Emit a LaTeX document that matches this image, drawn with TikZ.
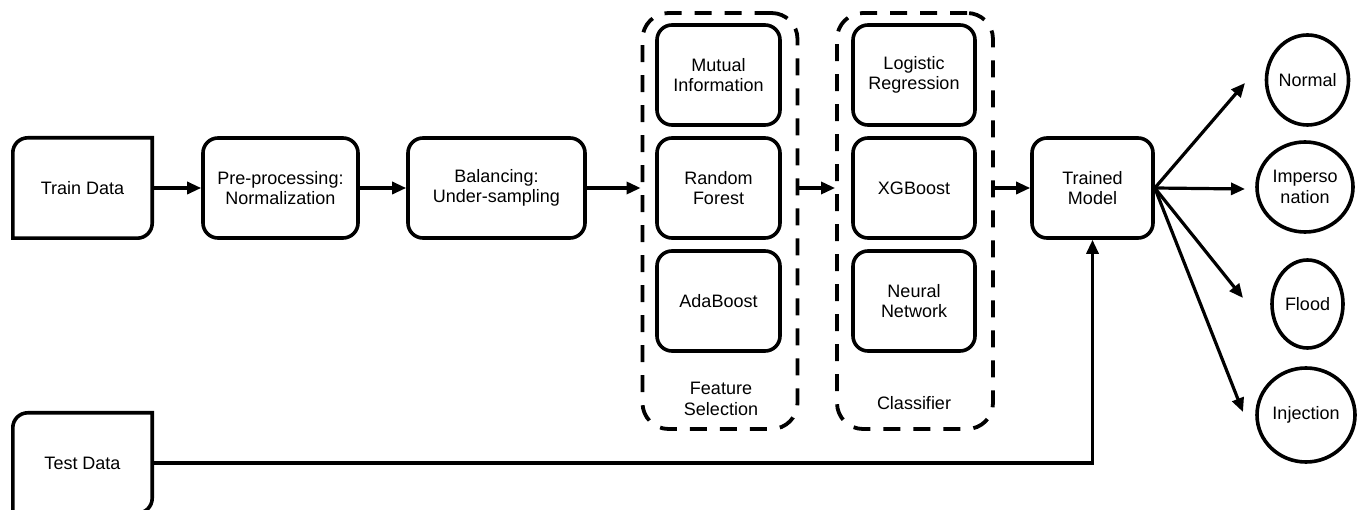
\documentclass[tikz,border=0pt]{standalone}
\usepackage{fontspec}
\setmainfont{Liberation Sans}
\usetikzlibrary{arrows.meta,shapes.geometric}
\begin{document}
\begin{tikzpicture}[x=1pt,y=-1pt,
  every node/.style={font=\fontsize{18}{20.5}\selectfont, align=center, inner sep=0pt},
  rbox/.style={draw, line width=3.6pt, rounded corners=15pt, minimum height=100pt},
  dbox/.style={draw, line width=3.8pt, dash pattern=on 17pt off 13pt, rounded corners=26pt, minimum width=155pt, minimum height=416pt},
  plain/.style={minimum width=139pt, minimum height=100pt},
  outc/.style={draw, ellipse, line width=3.6pt},
  conn/.style={line width=3.2pt, -{Triangle[length=14pt,width=12pt]}}
]
\useasboundingbox (0,0) rectangle (1363,510);

% data boxes
\node[plain] (train) at (82.5,188) {Train Data};
\draw[line width=3.6pt] (train.north east) -- ([yshift=15pt]train.south east)
  arc[start angle=0,end angle=-90,radius=15pt] -- (train.south west)
  -- ([yshift=-15pt]train.north west) arc[start angle=180,end angle=90,radius=15pt] -- cycle;
\node[plain] (test) at (82.5,463) {Test Data};
\draw[line width=3.6pt] (test.north east) -- ([yshift=15pt]test.south east)
  arc[start angle=0,end angle=-90,radius=15pt] -- (test.south west)
  -- ([yshift=-15pt]test.north west) arc[start angle=180,end angle=90,radius=15pt] -- cycle;

\node[rbox, minimum width=155pt] (pre) at (280.5,188) {Pre-processing:\\Normalization};
\node[rbox, minimum width=177pt] (bal) at (496.5,188) {Balancing:\\Under-sampling};

% feature selection
\node[dbox] (fs) at (720,221) {};
\node[rbox, minimum width=123pt] (mi) at (718.5,75) {Mutual\\Information};
\node[rbox, minimum width=123pt] (rf) at (718.5,188) {Random\\Forest};
\node[rbox, minimum width=123pt] (ada) at (718.5,301) {AdaBoost};
\node (fsl) at (721,399) {Feature\\Selection};

% classifier
\node[dbox, minimum width=156pt] (clf) at (915,221) {};
\node[rbox, minimum width=122pt] (lr) at (914,75) {Logistic\\Regression};
\node[rbox, minimum width=122pt] (xgb) at (914,188) {XGBoost};
\node[rbox, minimum width=122pt] (nn) at (914,301) {Neural\\Network};
\node (clfl) at (914,403) {Classifier};

\node[rbox, minimum width=121pt] (trained) at (1092.5,188) {Trained\\Model};

% outcomes
\node[outc, minimum width=71pt, minimum height=90pt] (normal) at (1307.5,80) {Normal};
\node[outc, minimum width=96pt, minimum height=90pt] (imp) at (1305,187) {Imperso\\nation};
\node[outc, minimum width=71pt, minimum height=88pt] (flood) at (1307.5,304) {Flood};
\node[outc, minimum width=98pt, minimum height=94pt] (inj) at (1306,415) {Injection};

\coordinate (tN) at (1245,83);
\coordinate (tI) at (1245,189);
\coordinate (tF) at (1243,298);
\coordinate (tJ) at (1243,412);

% connectors
\draw[conn] (train.east) -- (pre.west);
\draw[conn] (pre.east) -- (bal.west);
\draw[conn] (bal.east) -- (fs.west |- bal.east);
\draw[conn] (fs.east |- rf.east) -- (clf.west |- rf.east);
\draw[conn] (clf.east |- trained.west) -- (trained.west);
\draw[conn] (test.east) -| (trained.south);
\draw[conn] (trained.east) -- (tN);
\draw[conn] (trained.east) -- (tI);
\draw[conn] (trained.east) -- (tF);
\draw[conn] (trained.east) -- (tJ);
\end{tikzpicture}
\end{document}
